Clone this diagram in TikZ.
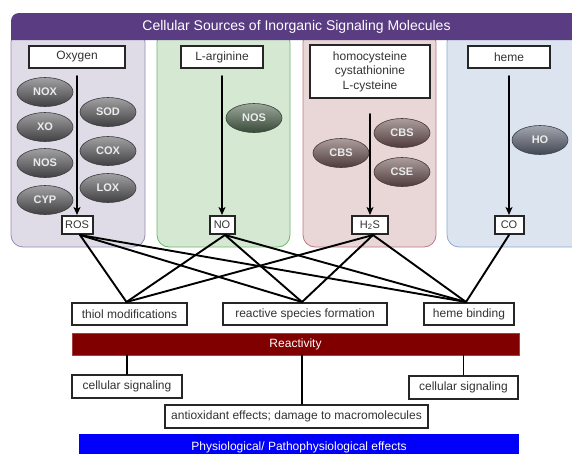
\documentclass[tikz,border=0pt]{standalone}
\usepackage{fontspec}
\setmainfont{Liberation Sans}
\usetikzlibrary{arrows.meta,shapes.geometric}
\definecolor{titleP}{RGB}{90,60,130}
\definecolor{fillA}{RGB}{223,220,232}
\definecolor{lineA}{RGB}{150,140,180}
\definecolor{fillB}{RGB}{212,232,210}
\definecolor{lineB}{RGB}{110,185,110}
\definecolor{fillC}{RGB}{233,214,214}
\definecolor{lineC}{RGB}{190,120,130}
\definecolor{fillD}{RGB}{220,228,240}
\definecolor{lineD}{RGB}{140,170,210}
\definecolor{enzA}{RGB}{85,85,88}
\definecolor{enzB}{RGB}{75,98,75}
\definecolor{enzC}{RGB}{105,78,78}
\definecolor{enzD}{RGB}{88,94,110}
\definecolor{reactR}{RGB}{128,0,0}
\definecolor{effB}{RGB}{0,0,250}
\begin{document}
\begin{tikzpicture}[x=1pt, y=-1pt, >={Stealth[length=8pt,width=7pt,inset=2pt]}, line cap=round,
  box/.style={draw=black!85, line width=2pt, fill=white, inner sep=0pt, minimum height=22pt,
    text=black!80, font=\fontsize{12}{14.5}\selectfont},
  prod/.style={box, minimum height=18pt, font=\fontsize{11}{12}\selectfont},
  enz/.style={ellipse, draw=#1!70!black, line width=0.6pt, minimum width=56pt, minimum height=29pt,
    inner sep=0pt, text=white!92!black, font=\fontsize{11}{12}\selectfont\bfseries,
    top color=#1!55, bottom color=#1!75!black},
  bar/.style={inner sep=0pt, text=white, font=\fontsize{12}{14}\selectfont},
  link/.style={line width=1.9pt},
  flow/.style={line width=1.7pt, ->, shorten <=7pt}]
\clip (0,0) rectangle (572,453);
% 四个来源区域
\draw[lineA, fill=fillA, line width=0.8pt, rounded corners=12pt] (11,30) rectangle (145,247);
\draw[lineB, fill=fillB, line width=0.8pt, rounded corners=12pt] (157,30) rectangle (290,247);
\draw[lineC, fill=fillC, line width=0.8pt, rounded corners=12pt] (303,30) rectangle (436,247);
\draw[lineD, fill=fillD, line width=0.8pt, rounded corners=12pt] (447,30) rectangle (590,247);
% 标题栏
\fill[titleP] (11,40) [rounded corners=8pt] -- (11,13) -- (590,13) [sharp corners] -- (590,40) -- cycle;
\node[text=white, font=\fontsize{14}{16}\selectfont] (title) at (296.5,27) {Cellular Sources of Inorganic Signaling Molecules};
% 底物
\node[box, minimum width=96pt] (oxy) at (77,57) {Oxygen};
\node[box, minimum width=82pt] (arg) at (222,57) {L-arginine};
\node[box, minimum width=120pt, minimum height=53pt, align=center] (cys) at (370,71.5) {homocysteine\\cystathionine\\L-cysteine};
\node[box, minimum width=82pt] (hem) at (509,57) {heme};
% 产物
\node[prod, minimum width=31pt] (ros) at (77,225) {ROS};
\node[prod, minimum width=25pt] (no) at (222,225) {NO};
\node[prod, minimum width=36pt] (hs) at (370,225) {H\textsubscript{2}S};
\node[prod, minimum width=29pt] (co) at (509,225) {CO};
% 酶
\node[enz=enzA] (nox) at (45,92) {NOX};
\node[enz=enzA] (xo) at (45,127) {XO};
\node[enz=enzA] (nosA) at (45,163) {NOS};
\node[enz=enzA] (cyp) at (45,200) {CYP};
\node[enz=enzA] (sod) at (108,112) {SOD};
\node[enz=enzA] (cox) at (108,151) {COX};
\node[enz=enzA] (lox) at (108,188) {LOX};
\node[enz=enzB] (nosB) at (254,118) {NOS};
\node[enz=enzC] (cbsA) at (341,153) {CBS};
\node[enz=enzC] (cbsB) at (402,133) {CBS};
\node[enz=enzC] (cse) at (402,172) {CSE};
\node[enz=enzD] (ho) at (540,140) {HO};
% 生成箭头
\draw[flow] (oxy) -- (ros);
\draw[flow] (arg) -- (no);
\draw[flow, shorten <=15pt] (cys) -- (hs);
\draw[flow] (hem) -- (co);
% 反应性
\node[box, minimum width=115pt] (thiol) at (129.5,314) {thiol modifications};
\node[box, minimum width=164pt] (rsf) at (305,314) {reactive species formation};
\node[box, minimum width=90pt] (hb) at (469,314) {heme binding};
\node[bar, fill=reactR, draw=reactR!75, minimum width=447pt, minimum height=22pt] (react) at (295.5,344) {Reactivity};
\foreach \s in {ros,no,hs}
  \foreach \t in {thiol,rsf,hb}
    \draw[link] ([xshift=3pt]\s.south) -- ([xshift=-3pt]\t.north);
\draw[link] (co.south) -- ([xshift=-3pt]hb.north);
% 效应
\node[box, minimum width=110pt, minimum height=23pt] (sigA) at (127,386.5) {cellular signaling};
\node[box, minimum width=109pt, minimum height=23pt] (sigB) at (463.5,387) {cellular signaling};
\node[box, minimum width=263pt, minimum height=23pt] (anti) at (296.5,416.5) {antioxidant effects; damage to macromolecules};
\node[bar, fill=effB, minimum width=440pt, minimum height=27pt] (eff) at (299,447.5) {Physiological/ Pathophysiological effects};
\draw[link] (sigA.north |- react.south) -- (sigA.north);
\draw[link] (sigB.north |- react.south) -- (sigB.north);
\draw[link] ([xshift=5.5pt]anti.north |- react.south) -- ([xshift=5.5pt]anti.north);
\end{tikzpicture}
\end{document}
